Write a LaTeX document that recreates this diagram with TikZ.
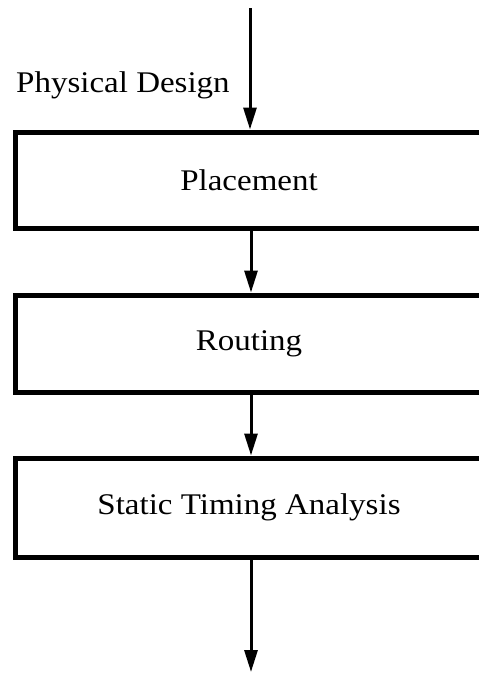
\documentclass[tikz,border=0pt]{standalone}
\usepackage{fontspec}
\setmainfont{Liberation Serif}[FakeStretch=1.1]
\usetikzlibrary{arrows.meta}
\begin{document}
\begin{tikzpicture}[x=1pt,y=-1pt,
  stepbox/.style={draw, line width=5pt, minimum width=468pt, inner sep=0pt,
    font=\fontsize{30}{36}\selectfont},
  flow/.style={line width=3pt, -{Triangle[length=22pt,width=13pt]}},
  lbl/.style={font=\fontsize{30}{36}\selectfont, inner sep=0pt}]
\useasboundingbox (0,0) rectangle (479,673);
\node[stepbox, minimum height=96pt] (place) at (249,180) {Placement};
\node[stepbox, minimum height=97pt] (route) at (249,343.5) {Routing};
\node[stepbox, minimum height=99pt] (sta) at (249,507.5) {Static Timing Analysis};
\coordinate (in) at (250,8);
\coordinate (out) at (251,672);
\node[lbl, anchor=base west] (pd) at (16,92) {Physical Design};
\draw[flow] (in) -- (place.north -| in);
\draw[flow] (place.south -| 251,0) -- (route.north -| 251,0);
\draw[flow] (route.south -| 251,0) -- (sta.north -| 251,0);
\draw[flow] (sta.south -| out) -- (out);
\end{tikzpicture}
\end{document}
